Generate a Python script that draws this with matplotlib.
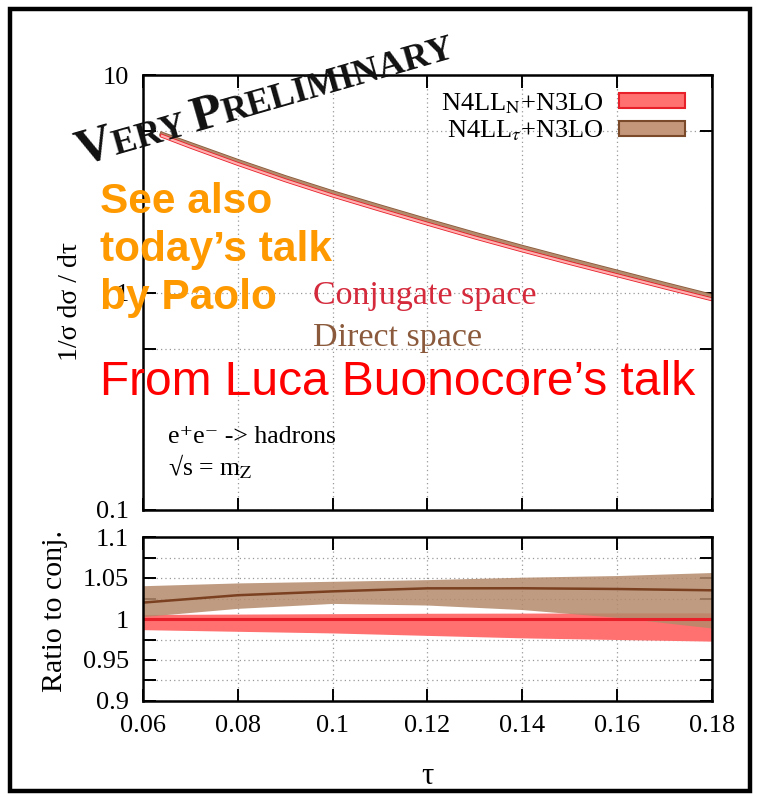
import matplotlib
matplotlib.use('Agg')
import matplotlib.pyplot as plt
import matplotlib.patheffects as pe
from matplotlib.patches import Rectangle, Patch
import numpy as np

plt.rcParams['font.family'] = ['Liberation Serif', 'DejaVu Serif']
plt.rcParams['mathtext.fontset'] = 'stix'

W, H = 758, 797

# upper panel: 1/sigma dsigma/dtau
tau_up = [0.064, 0.07, 0.08, 0.09, 0.10, 0.11, 0.12, 0.13, 0.14, 0.15, 0.16, 0.17, 0.18]
xs_conj = [5.25, 4.68, 3.90, 3.28, 2.79, 2.40, 2.07, 1.79, 1.56, 1.365, 1.20, 1.055, 0.93]
xs_dir = [5.35, 4.80, 4.01, 3.38, 2.88, 2.48, 2.14, 1.855, 1.615, 1.415, 1.243, 1.092, 0.962]

# lower panel: ratio to conjugate space
tau_r = [0.06, 0.08, 0.10, 0.12, 0.14, 0.16, 0.18]
conj_c = [1.0, 1.0, 1.0, 1.0, 1.0, 1.0, 1.0]
conj_lo = [0.987, 0.985, 0.983, 0.980, 0.977, 0.975, 0.973]
conj_hi = [1.0055, 1.006, 1.0065, 1.007, 1.0072, 1.0074, 1.0075]
dir_c = [1.020, 1.029, 1.0337, 1.0374, 1.0375, 1.0366, 1.035]
dir_lo = [1.003, 1.013, 1.019, 1.017, 1.0115, 1.002, 0.989]
dir_hi = [1.0406, 1.044, 1.046, 1.048, 1.051, 1.053, 1.0567]

xticks = [0.06, 0.08, 0.10, 0.12, 0.14, 0.16, 0.18]
xticklabels = ['0.06', '0.08', '0.1', '0.12', '0.14', '0.16', '0.18']
yticks_up = [0.1, 0.55, 1, 5.5, 10]
yticklabels_up = ['0.1', '', '1', '', '10']
yticks_lo = [0.9, 0.925, 0.95, 0.975, 1.0, 1.025, 1.05, 1.075, 1.1]
yticklabels_lo = ['0.9', '', '0.95', '', '1', '', '1.05', '', '1.1']

RED = '#e8202a'
RED_FILL = '#ff7070'
BROWN = '#7a4020'
BROWN_FILL = '#b48a6c'

fig = plt.figure(figsize=(W / 100, H / 100), dpi=100)

def frac(x, y):
    return x / W, 1 - y / H

ax1 = fig.add_axes([143 / W, 1 - 510 / H, 569 / W, 435 / H])
ax2 = fig.add_axes([143 / W, 1 - 701 / H, 569 / W, 164 / H])

for ax in (ax1, ax2):
    for s in ax.spines.values():
        s.set_linewidth(1.8)
    ax.tick_params(direction='in', length=9, width=1.4, top=True, right=True,
                   labelsize=19, pad=10)
    ax.set_xlim(0.06, 0.18)
    ax.set_xticks(xticks)
    ax.grid(True, color='#999999', linestyle=(0, (1, 2.5)), linewidth=0.9)
    ax.set_axisbelow(True)

# upper panel
ax1.set_yscale('log')
ax1.set_ylim(0.1, 10)
ax1.set_yticks(yticks_up)
ax1.set_yticklabels(yticklabels_up)
ax1.minorticks_off()
ax1.set_xticklabels([])
ax1.plot(tau_up, xs_dir, color=BROWN_FILL, lw=2.2,
         path_effects=[pe.Stroke(linewidth=3.4, foreground='#8a5a3a'), pe.Normal()])
ax1.plot(tau_up, xs_conj, color='#ffb0b0', lw=1.6,
         path_effects=[pe.Stroke(linewidth=2.8, foreground=RED), pe.Normal()])
ax1.set_ylabel('1/σ dσ / dτ', fontsize=20)
ax1.yaxis.set_label_coords(-0.106, 0.48)

leg = ax1.legend(handles=[Patch(facecolor=RED_FILL, edgecolor=RED, lw=1.5),
                          Patch(facecolor='#c4977a', edgecolor='#7a4a2a', lw=1.5)],
                 labels=['N4LL$_\\mathrm{N}$+N3LO', 'N4LL$_\\tau$+N3LO'],
                 loc='upper right', bbox_to_anchor=(0.995, 1.018), frameon=False,
                 markerfirst=False, fontsize=19, handlelength=2.5, handleheight=0.5,
                 labelspacing=0.12, handletextpad=0.6)

# lower panel
ax2.set_ylim(0.9, 1.1)
ax2.set_yticks(yticks_lo)
ax2.set_yticklabels(yticklabels_lo)
ax2.set_xticklabels(xticklabels)
ax2.fill_between(tau_r, conj_lo, conj_hi, color=RED_FILL, lw=0)
ax2.plot(tau_r, conj_c, color=RED, lw=2.2)
ax2.fill_between(tau_r, dir_lo, dir_hi, color=BROWN_FILL, alpha=0.85, lw=0)
ax2.plot(tau_r, dir_c, color=BROWN, lw=1.8)
ax2.set_ylabel('Ratio to conj.', fontsize=21.5)
ax2.yaxis.set_label_coords(-0.131, 0.55)
ax2.set_xlabel('τ', fontsize=22, labelpad=18)

# annotations inside the upper panel
fig.text(*frac(313, 296), 'Conjugate space', color='#d42a3c', fontsize=24.5, va='center')
fig.text(*frac(313, 338), 'Direct space', color='#8b5a3c', fontsize=24.5, va='center')
fig.text(*frac(168, 437), 'e\u207ae\u207b -> hadrons', fontsize=18.5, va='center')
fig.text(*frac(168, 467), '√s = m$_\\mathrm{Z}$', fontsize=18.5, va='center')

fig.text(*frac(100, 250), 'See also\ntoday\u2019s talk\nby Paolo', color='#ff9900',
         fontsize=30.5, fontweight='bold', family='Liberation Sans', va='center',
         linespacing=1.25)
fig.text(*frac(100, 383), 'From Luca Buonocore\u2019s talk', color='#ff0000',
         fontsize=34.5, family='Liberation Sans', va='center')

# slanted small-caps stamp
pieces = [('V', 37), ('ERY ', 26), ('P', 37), ('RELIMINARY', 26)]
ang = 16
renderer = fig.canvas.get_renderer()
x0, y0 = 80, H - 165
for s, fs in pieces:
    tmp = fig.text(0, 0, s, fontsize=fs, fontweight='bold')
    w = tmp.get_window_extent(renderer).width
    tmp.remove()
    fig.text(x0 / W, y0 / H, s, fontsize=fs, fontweight='bold', rotation=ang,
             rotation_mode='anchor', ha='left', va='baseline', color='#111111')
    x0 += w * np.cos(np.radians(ang))
    y0 += w * np.sin(np.radians(ang))

# outer slide frame
fig.patches.append(Rectangle((10 / W, 1 - 791 / H), 740 / W, 782 / H,
                             transform=fig.transFigure, fill=False,
                             edgecolor='black', lw=3.2))

fig.savefig('out.png', dpi=100)
